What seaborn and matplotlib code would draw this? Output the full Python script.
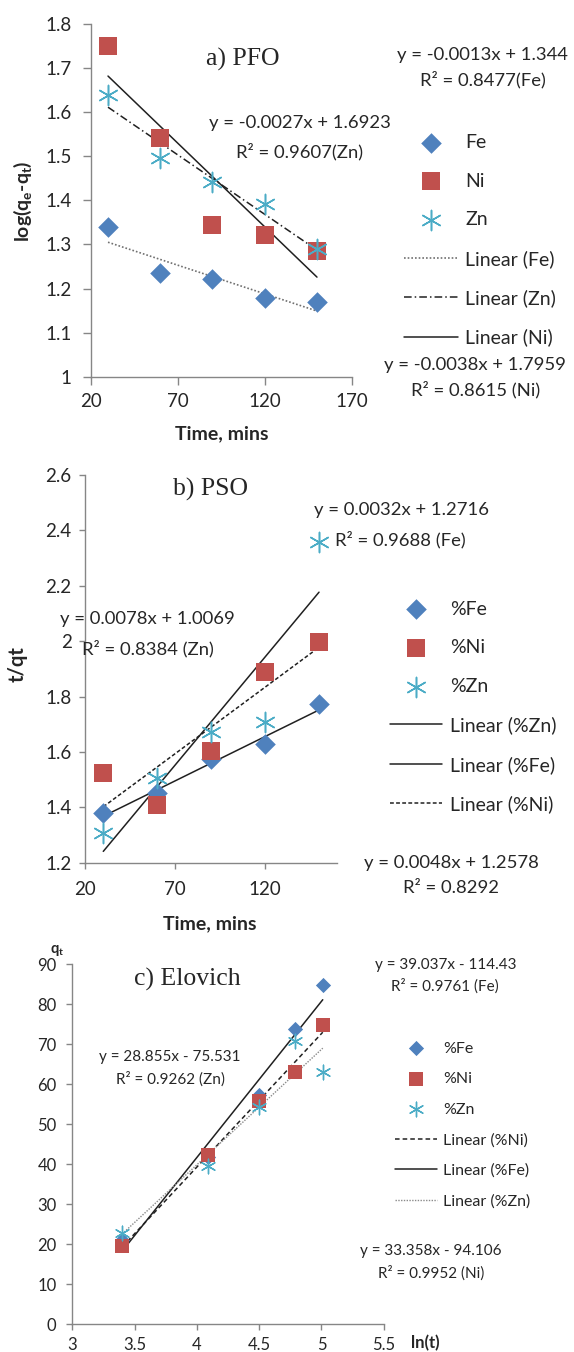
import numpy as np
import pandas as pd
import matplotlib
matplotlib.use("Agg")
import matplotlib.pyplot as plt
import seaborn as sns

sns.set_theme(style="white")
plt.rcParams["font.family"] = ["Lato", "DejaVu Sans"]
plt.rcParams["mathtext.fontset"] = "custom"
plt.rcParams["mathtext.rm"] = "Lato"
plt.rcParams["mathtext.bf"] = "Lato:bold"
plt.rcParams["mathtext.it"] = "Lato:italic"

# ---------------- data ----------------
time_min = [30, 60, 90, 120, 150]

# a) pseudo-first-order: log(qe - qt)
pfo_fe = [1.340, 1.236, 1.221, 1.179, 1.170]
pfo_ni = [1.751, 1.541, 1.344, 1.322, 1.284]
pfo_zn = [1.639, 1.495, 1.442, 1.392, 1.290]
pfo_slope = {"Fe": -0.0013, "Zn": -0.0027, "Ni": -0.0038}
pfo_icept = {"Fe": 1.344, "Zn": 1.6923, "Ni": 1.7959}

# b) pseudo-second-order: t/qt
pso_fe = [1.381, 1.452, 1.575, 1.629, 1.772]
pso_ni = [1.523, 1.409, 1.605, 1.888, 1.998]
pso_zn = [1.308, 1.506, 1.672, 1.708, 2.359]
pso_slope = {"Zn": 0.0078, "Fe": 0.0032, "Ni": 0.0048}
pso_icept = {"Zn": 1.0069, "Fe": 1.2716, "Ni": 1.2578}

# c) Elovich: qt vs ln(t)
ln_t = [3.40, 4.09, 4.50, 4.79, 5.01]
elo_fe = [21.0, 41.8, 57.3, 73.9, 84.8]
elo_ni = [19.6, 42.3, 55.9, 63.2, 74.9]
elo_zn = [22.9, 39.7, 54.4, 70.8, 63.2]
elo_slope = {"Ni": 33.358, "Fe": 39.037, "Zn": 28.855}
elo_icept = {"Ni": -94.106, "Fe": -114.43, "Zn": -75.531}

# axis ticks
pfo_xticks = [20, 70, 120, 170]
pfo_yticks = [1.0, 1.1, 1.2, 1.3, 1.4, 1.5, 1.6, 1.7, 1.8]
pfo_ylabels = ["1", "1.1", "1.2", "1.3", "1.4", "1.5", "1.6", "1.7", "1.8"]
pso_xticks = [20, 70, 120]
pso_yticks = [1.2, 1.4, 1.6, 1.8, 2.0, 2.2, 2.4, 2.6]
pso_ylabels = ["1.2", "1.4", "1.6", "1.8", "2", "2.2", "2.4", "2.6"]
elo_xticks = [3, 3.5, 4, 4.5, 5, 5.5]
elo_xlabels = ["3", "3.5", "4", "4.5", "5", "5.5"]
elo_yticks = [0, 10, 20, 30, 40, 50, 60, 70, 80, 90]

# ---------------- style ----------------
FE_C = "#4F81BD"
NI_C = "#C0504D"
ZN_C = "#4BACC6"
AX_C = "#868686"
TXT_C = "#262626"

W, H = 574, 1352
fig = plt.figure(figsize=(W / 100, H / 100), dpi=100)
fig.patch.set_facecolor("white")


def px_axes(left, top, right, bottom):
    return fig.add_axes([left / W, 1 - bottom / H, (right - left) / W, (bottom - top) / H])


def ftext(x, y, s, size, **kw):
    fig.text(x / W, 1 - y / H, s, fontsize=size, ha="center", va="center", color=TXT_C, **kw)


def style_axes(ax, tick_len, ypad, xpad, size):
    for side in ("top", "right"):
        ax.spines[side].set_visible(False)
    for side in ("left", "bottom"):
        ax.spines[side].set_color(AX_C)
        ax.spines[side].set_linewidth(1.0)
    ax.tick_params(axis="both", direction="out", length=tick_len, width=1.0,
                   color=AX_C, labelcolor=TXT_C, labelsize=size,
                   left=True, bottom=True)
    ax.tick_params(axis="y", pad=ypad)
    ax.tick_params(axis="x", pad=xpad)
    ax.set_facecolor("white")
    ax.grid(False)


def label_at(ax, which, text, x, y, size, rotation=None):
    """Place an axis label centred on the pixel position (x, y)."""
    pos = ax.get_position()
    ax_x = (x / W - pos.x0) / pos.width
    ax_y = ((1 - y / H) - pos.y0) / pos.height
    kw = dict(fontsize=size, fontweight="bold", color=TXT_C, va="center", ha="center")
    if which == "x":
        ax.set_xlabel(text, **kw)
        ax.xaxis.set_label_coords(ax_x, ax_y)
    else:
        if rotation is not None:
            kw["rotation"] = rotation
        ax.set_ylabel(text, **kw)
        ax.yaxis.set_label_coords(ax_x, ax_y)


def trend(ax, x, slope, icept, label, **kw):
    xs = np.array([x[0], x[-1]], dtype=float)
    ys = slope * xs + icept
    sns.lineplot(x=xs, y=ys, ax=ax, label=label, legend=False, sort=False,
                 estimator=None, zorder=2, **kw)


def points(ax, x, y, label, marker, s, color, lw=0):
    sns.scatterplot(x=x, y=y, ax=ax, label=label, legend=False, marker=marker,
                    s=s, color=color, linewidth=lw, zorder=3)


ASTER = (6, 2, 0)

# ================= a) PFO =================
ax1 = px_axes(90.6, 24, 351.8, 376.7)
trend(ax1, time_min, pfo_slope["Fe"], pfo_icept["Fe"], "Linear (Fe)",
      color="#707070", linewidth=1.2, linestyle=(0, (1, 1.2)))
trend(ax1, time_min, pfo_slope["Zn"], pfo_icept["Zn"], "Linear (Zn)",
      color="#202020", linewidth=1.1, linestyle=(0, (5, 2, 1, 2)))
trend(ax1, time_min, pfo_slope["Ni"], pfo_icept["Ni"], "Linear (Ni)",
      color="#202020", linewidth=1.1, linestyle="-")
points(ax1, time_min, pfo_fe, "Fe", "D", 110, FE_C)
points(ax1, time_min, pfo_ni, "Ni", "s", 150, NI_C)
points(ax1, time_min, pfo_zn, "Zn", ASTER, 210, ZN_C, lw=1.1)
ax1.set_xlim(20, 170)
ax1.set_ylim(1.0, 1.8)
ax1.set_xticks(pfo_xticks)
ax1.set_yticks(pfo_yticks, pfo_ylabels)
style_axes(ax1, 5.8, 8, 6, 13.5)
label_at(ax1, "x", "Time, mins", 221.5, 433.3, 14)
label_at(ax1, "y", r"log(q$_\mathbf{e}$-q$_\mathbf{t}$)", 22.5, 201.6, 14)

h, l = ax1.get_legend_handles_labels()
hd = dict(zip(l, h))
order1 = ["Fe", "Ni", "Zn", "Linear (Fe)", "Linear (Zn)", "Linear (Ni)"]
ax1.legend([hd[k] for k in order1], order1, loc="upper left",
           bbox_to_anchor=(404 / W, 1 - 134 / H), bbox_transform=fig.transFigure,
           frameon=False, borderpad=0, borderaxespad=0, fontsize=14,
           handlelength=2.78, handletextpad=0.36, labelspacing=1.11,
           labelcolor=TXT_C)

ftext(242.5, 59, "a) PFO", 18.5, family="Liberation Serif")
ftext(482, 55, "y = -0.0013x + 1.344", 13.3)
ftext(483, 79.3, "R² = 0.8477(Fe)", 13.3)
ftext(299.6, 123.3, "y = -0.0027x + 1.6923", 13.3)
ftext(299.6, 151.7, "R² = 0.9607(Zn)", 13.3)
ftext(475, 365, "y = -0.0038x + 1.7959", 13.3)
ftext(476, 390, "R² = 0.8615 (Ni)", 13.3)

# ================= b) PSO =================
ax2 = px_axes(85.3, 475, 337, 862.7)
trend(ax2, time_min, pso_slope["Zn"], pso_icept["Zn"], "Linear (%Zn)",
      color="#202020", linewidth=1.1, linestyle="-")
trend(ax2, time_min, pso_slope["Fe"], pso_icept["Fe"], "Linear (%Fe)",
      color="#202020", linewidth=1.1, linestyle="-")
trend(ax2, time_min, pso_slope["Ni"], pso_icept["Ni"], "Linear (%Ni)",
      color="#202020", linewidth=1.1, linestyle=(0, (2.5, 1.5)))
points(ax2, time_min, pso_fe, "%Fe", "D", 110, FE_C)
points(ax2, time_min, pso_ni, "%Ni", "s", 150, NI_C)
points(ax2, time_min, pso_zn, "%Zn", ASTER, 210, ZN_C, lw=1.1)
ax2.set_xlim(20, 160)
ax2.set_ylim(1.2, 2.6)
ax2.set_xticks(pso_xticks)
ax2.set_yticks(pso_yticks, pso_ylabels)
style_axes(ax2, 4.3, 5.5, 9, 13.5)
label_at(ax2, "x", "Time, mins", 210, 923.3, 14)
label_at(ax2, "y", "t/qt", 17.5, 664, 14.5)

h, l = ax2.get_legend_handles_labels()
hd = dict(zip(l, h))
order2 = ["%Fe", "%Ni", "%Zn", "Linear (%Zn)", "Linear (%Fe)", "Linear (%Ni)"]
ax2.legend([hd[k] for k in order2], order2, loc="upper left",
           bbox_to_anchor=(390.4 / W, 1 - 600.6 / H), bbox_transform=fig.transFigure,
           frameon=False, borderpad=0, borderaxespad=0, fontsize=14,
           handlelength=2.63, handletextpad=0.46, labelspacing=1.11,
           labelcolor=TXT_C)

ftext(210.5, 489, "b) PSO", 18.5, family="Liberation Serif")
ftext(401.7, 510, "y = 0.0032x + 1.2716", 13.3)
ftext(400, 539.3, "R² = 0.9688 (Fe)", 13.3)
ftext(147.6, 619.3, "y = 0.0078x + 1.0069", 13.3)
ftext(147.6, 648.3, "R² = 0.8384 (Zn)", 13.3)
ftext(451, 862.7, "y = 0.0048x + 1.2578", 13.3)
ftext(451, 888.3, "R² = 0.8292", 13.3)

# ================= c) Elovich =================
ax3 = px_axes(72.3, 964.3, 383.8, 1324.3)
trend(ax3, ln_t, elo_slope["Ni"], elo_icept["Ni"], "Linear (%Ni)",
      color="#202020", linewidth=1.1, linestyle=(0, (3, 2)))
trend(ax3, ln_t, elo_slope["Fe"], elo_icept["Fe"], "Linear (%Fe)",
      color="#202020", linewidth=1.1, linestyle="-")
trend(ax3, ln_t, elo_slope["Zn"], elo_icept["Zn"], "Linear (%Zn)",
      color="#8a8a8a", linewidth=1.0, linestyle=(0, (1, 1)))
points(ax3, ln_t, elo_fe, "%Fe", "D", 60, FE_C)
points(ax3, ln_t, elo_ni, "%Ni", "s", 95, NI_C)
points(ax3, ln_t, elo_zn, "%Zn", ASTER, 110, ZN_C, lw=1.0)
ax3.set_xlim(3, 5.5)
ax3.set_ylim(0, 90)
ax3.set_xticks(elo_xticks, elo_xlabels)
ax3.set_yticks(elo_yticks)
style_axes(ax3, 4.3, 7, 4.5, 12)
label_at(ax3, "x", "ln(t)", 425, 1343, 12)
label_at(ax3, "y", r"q$_\mathbf{t}$", 57, 950, 10.5, rotation=0)

h, l = ax3.get_legend_handles_labels()
hd = dict(zip(l, h))
order3 = ["%Fe", "%Ni", "%Zn", "Linear (%Ni)", "Linear (%Fe)", "Linear (%Zn)"]
ax3.legend([hd[k] for k in order3], order3, loc="upper left",
           bbox_to_anchor=(395 / W, 1 - 1041.5 / H), bbox_transform=fig.transFigure,
           frameon=False, borderpad=0, borderaxespad=0, fontsize=11.5,
           handlelength=2.65, handletextpad=0.38, labelspacing=1.02,
           labelcolor=TXT_C)

ftext(187, 979, "c) Elovich", 18.5, family="Liberation Serif")
ftext(445.8, 965, "y = 39.037x - 114.43", 11)
ftext(445, 986, "R² = 0.9761 (Fe)", 11)
ftext(170, 1057.3, "y = 28.855x - 75.531", 11)
ftext(170, 1079.3, "R² = 0.9262 (Zn)", 11)
ftext(431, 1250.7, "y = 33.358x - 94.106", 11)
ftext(431, 1272.7, "R² = 0.9952 (Ni)", 11)

fig.savefig("out.png", dpi=100, facecolor="white")
